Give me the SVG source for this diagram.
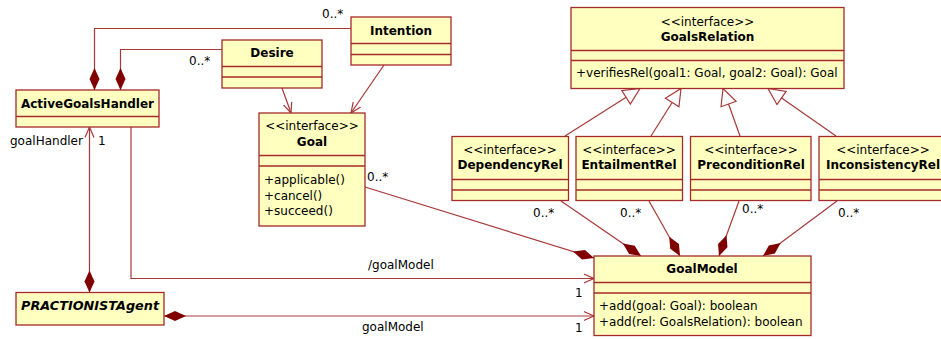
<svg xmlns="http://www.w3.org/2000/svg" width="941" height="339" viewBox="0 0 941 339">
<style>
.box{fill:#ffffc0;stroke:#a52a2a;stroke-width:1.3}
.sep{stroke:#a52a2a;stroke-width:1.3}
.ln{fill:none;stroke:#a83838;stroke-width:1.2}
text{font-family:"DejaVu Sans","Verdana",sans-serif;font-size:12px;fill:#000}
.b{font-weight:bold;text-anchor:middle}
.c{text-anchor:middle}
.bi{font-weight:bold;font-style:italic}
</style>
<defs>
<marker id="dia" viewBox="0 -6 23 12" markerWidth="23" markerHeight="12" refX="22" refY="0" orient="auto-start-reverse" markerUnits="userSpaceOnUse">
<path d="M0,0 L11,-5 L22,0 L11,5 z" fill="#800000"/>
</marker>
<marker id="arr" viewBox="0 -6 12 12" markerWidth="12" markerHeight="12" refX="10.5" refY="0" orient="auto" markerUnits="userSpaceOnUse">
<path d="M0,-4.5 L10.5,0 L0,4.5" fill="none" stroke="#a83838" stroke-width="1.2"/>
</marker>
<marker id="gen" viewBox="-1 -10 19 20" markerWidth="19" markerHeight="20" refX="16.5" refY="0" orient="auto" markerUnits="userSpaceOnUse">
<path d="M0,-8 L16.5,0 L0,8 z" fill="#ffffff" stroke="#a83838" stroke-width="1.2"/>
</marker>
</defs>

<g id="connectors">
<path class="ln" d="M351,28.5 H94.5 V90" marker-end="url(#dia)"/>
<path class="ln" d="M222,49.5 H120.5 V90" marker-end="url(#dia)"/>
<path class="ln" d="M282,88 L291,113" marker-end="url(#arr)"/>
<path class="ln" d="M384,65 L351,113" marker-end="url(#arr)"/>
<path class="ln" d="M89.5,292.5 V127" marker-start="url(#dia)" marker-end="url(#arr)"/>
<path class="ln" d="M131,127 V278.5 H594" marker-end="url(#arr)"/>
<path class="ln" d="M164,316 H594" marker-start="url(#dia)" marker-end="url(#arr)"/>
<path class="ln" d="M365,187 L594,258" marker-end="url(#dia)"/>
<path class="ln" d="M561,201 L641,256" marker-end="url(#dia)"/>
<path class="ln" d="M649,201 L680,256" marker-end="url(#dia)"/>
<path class="ln" d="M739,201 L719,256" marker-end="url(#dia)"/>
<path class="ln" d="M837,201 L763,256" marker-end="url(#dia)"/>
<path class="ln" d="M565,136 L640,88.5" marker-end="url(#gen)"/>
<path class="ln" d="M651,136 L681,88.5" marker-end="url(#gen)"/>
<path class="ln" d="M740,136 L723,88.5" marker-end="url(#gen)"/>
<path class="ln" d="M836,136 L768,88.5" marker-end="url(#gen)"/>
<text x="322" y="18">0..*</text>
<text x="189" y="65">0..*</text>
<text x="10" y="145">goalHandler</text>
<text x="98" y="145">1</text>
<text x="367" y="181">0..*</text>
<text x="368" y="269">/goalModel</text>
<text x="362" y="331">goalModel</text>
<text x="575" y="297">1</text>
<text x="575" y="332">1</text>
<text x="533" y="217">0..*</text>
<text x="620" y="217">0..*</text>
<text x="742" y="213">0..*</text>
<text x="838" y="217">0..*</text>
</g>

<g id="Intention">
<rect class="box" x="351" y="17" width="100" height="48"/>
<line class="sep" x1="351" y1="43.5" x2="451" y2="43.5"/>
<line class="sep" x1="351" y1="54.5" x2="451" y2="54.5"/>
<text class="b" x="401" y="35">Intention</text>
</g>

<g id="Desire">
<rect class="box" x="222" y="40" width="100" height="48"/>
<line class="sep" x1="222" y1="66.5" x2="322" y2="66.5"/>
<line class="sep" x1="222" y1="77" x2="322" y2="77"/>
<text class="b" x="272" y="57">Desire</text>
</g>

<g id="ActiveGoalsHandler">
<rect class="box" x="16" y="90" width="143" height="37"/>
<line class="sep" x1="16" y1="116.5" x2="159" y2="116.5"/>
<text class="b" x="87.5" y="108">ActiveGoalsHandler</text>
</g>

<g id="Goal">
<rect class="box" x="259" y="113" width="106" height="113"/>
<line class="sep" x1="259" y1="155.5" x2="365" y2="155.5"/>
<line class="sep" x1="259" y1="166" x2="365" y2="166"/>
<text class="c" x="312" y="130">&lt;&lt;interface&gt;&gt;</text>
<text class="b" x="312" y="146">Goal</text>
<text x="264" y="184">+applicable()</text>
<text x="264" y="199.5">+cancel()</text>
<text x="264" y="215">+succeed()</text>
</g>

<g id="GoalsRelation">
<rect class="box" x="571" y="7.5" width="273" height="81"/>
<line class="sep" x1="571" y1="50.5" x2="844" y2="50.5"/>
<line class="sep" x1="571" y1="60.5" x2="844" y2="60.5"/>
<text class="c" x="707.5" y="26">&lt;&lt;interface&gt;&gt;</text>
<text class="b" x="707.5" y="41">GoalsRelation</text>
<text x="576" y="77">+verifiesRel(goal1: Goal, goal2: Goal): Goal</text>
</g>

<g id="DependencyRel">
<rect class="box" x="452" y="136.5" width="116.5" height="64"/>
<line class="sep" x1="452" y1="179.5" x2="568.5" y2="179.5"/>
<line class="sep" x1="452" y1="190" x2="568.5" y2="190"/>
<text class="c" x="510" y="154">&lt;&lt;interface&gt;&gt;</text>
<text class="b" x="510" y="169">DependencyRel</text>
</g>

<g id="EntailmentRel">
<rect class="box" x="576" y="136.5" width="106.5" height="64"/>
<line class="sep" x1="576" y1="179.5" x2="682.5" y2="179.5"/>
<line class="sep" x1="576" y1="190" x2="682.5" y2="190"/>
<text class="c" x="629" y="154">&lt;&lt;interface&gt;&gt;</text>
<text class="b" x="629" y="169">EntailmentRel</text>
</g>

<g id="PreconditionRel">
<rect class="box" x="690.5" y="136.5" width="120.5" height="64"/>
<line class="sep" x1="690.5" y1="179.5" x2="811" y2="179.5"/>
<line class="sep" x1="690.5" y1="190" x2="811" y2="190"/>
<text class="c" x="751" y="154">&lt;&lt;interface&gt;&gt;</text>
<text class="b" x="751" y="169">PreconditionRel</text>
</g>

<g id="InconsistencyRel">
<rect class="box" x="819" y="136.5" width="130" height="64"/>
<line class="sep" x1="819" y1="179.5" x2="949" y2="179.5"/>
<line class="sep" x1="819" y1="190" x2="949" y2="190"/>
<text class="c" x="883" y="154">&lt;&lt;interface&gt;&gt;</text>
<text class="b" x="883" y="169">InconsistencyRel</text>
</g>

<g id="GoalModel">
<rect class="box" x="594" y="256" width="217" height="79.5"/>
<line class="sep" x1="594" y1="282.5" x2="811" y2="282.5"/>
<line class="sep" x1="594" y1="293" x2="811" y2="293"/>
<text class="b" x="702" y="273">GoalModel</text>
<text x="599" y="310">+add(goal: Goal): boolean</text>
<text x="599" y="326">+add(rel: GoalsRelation): boolean</text>
</g>

<g id="PRACTIONISTAgent">
<rect class="box" x="16" y="292.5" width="148" height="32.5"/>
<text class="bi" x="21" y="310" textLength="138" lengthAdjust="spacingAndGlyphs">PRACTIONISTAgent</text>
</g>
</svg>
